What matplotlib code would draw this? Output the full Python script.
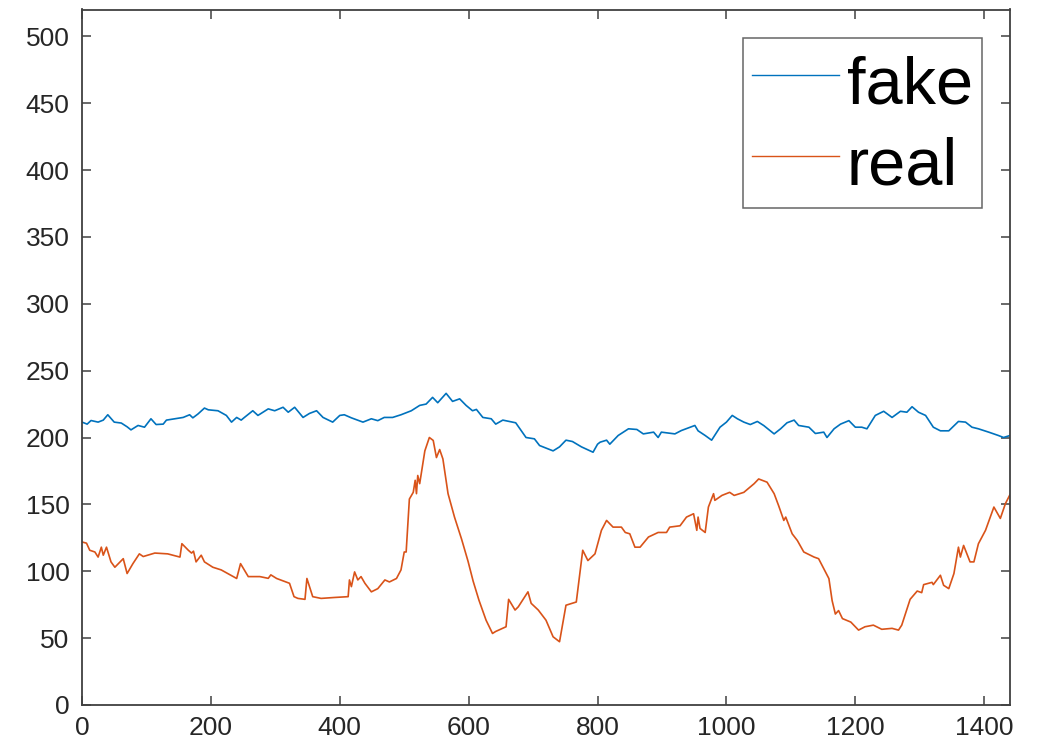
import numpy as np
import matplotlib
matplotlib.use("Agg")
import matplotlib.pyplot as plt

plt.rcParams['font.family'] = ['Liberation Sans', 'DejaVu Sans']

# fake series (minute of day, value)
fake_x = [0, 8, 14, 25, 33, 40, 50, 61, 70, 76, 87, 97, 107, 115, 126, 131, 144, 157,
          167, 172, 180, 190, 196, 211, 224, 232, 240, 247, 252, 265, 273, 289, 299,
          312, 320, 330, 343, 353, 364, 374, 389, 400, 407, 418, 436, 449, 459, 469,
          482, 495, 511, 524, 534, 544, 552, 565, 575, 586, 596, 606, 612, 622, 635,
          642, 653, 673, 689, 702, 710, 731, 741, 751, 761, 775, 793, 800, 804, 814,
          819, 832, 848, 861, 871, 887, 894, 899, 920, 930, 951, 956, 967, 977, 990,
          1000, 1009, 1017, 1027, 1037, 1048, 1058, 1074, 1084, 1094, 1105, 1112,
          1128, 1138, 1151, 1156, 1167, 1177, 1190, 1200, 1210, 1218, 1231, 1244,
          1257, 1270, 1280, 1288, 1298, 1309, 1321, 1332, 1345, 1360, 1371, 1381,
          1391, 1407, 1422, 1430, 1440]
fake_y = [211.5, 210, 212.7, 211.5, 213, 217, 211.5, 210.8, 208, 205.7, 209, 207.7,
          214, 209.7, 210, 213, 214, 215, 217, 214.7, 217.6, 222, 220.7, 220, 216.5,
          211.5, 215, 213, 215, 220, 216.5, 221.4, 220, 222.6, 218.9, 222.6, 215, 218,
          220, 215, 211.5, 216.5, 217, 214.7, 211.5, 214, 212.6, 215, 215, 217, 220,
          224, 225, 230, 226, 233, 227, 228.9, 224, 220, 221, 215, 214, 210, 213, 211,
          200, 199, 194, 190, 193, 198, 197, 193, 189, 195, 196.5, 198, 195, 201.5,
          206.5, 206, 202.7, 204, 200, 204, 202.7, 205.2, 209, 205, 201.5, 198, 207.7,
          211.5, 216.5, 214, 211.5, 209.7, 212, 208.9, 202.7, 206.5, 211, 213, 209,
          207.7, 203, 204, 200, 206.5, 210, 212.6, 207.7, 207.7, 206.5, 216.5, 219.6,
          215, 219.6, 218.9, 223, 218.9, 216.5, 207.7, 205, 205, 212, 211.5, 207.7,
          206.5, 204, 201.5, 200, 201.5]

# real series
real_x = [0, 7, 12, 20, 25, 30, 33, 38, 45, 51, 61, 64, 70, 79, 89, 95, 113, 133, 152,
          155, 165, 170, 173, 177, 185, 190, 203, 216, 235, 240, 246, 258, 276, 289,
          293, 302, 322, 329, 335, 346, 349, 358, 371, 392, 413, 415, 418, 423, 428,
          433, 439, 449, 459, 470, 477, 488, 495, 500, 503, 508, 514, 517, 519, 521,
          524, 532, 539, 545, 550, 555, 560, 568, 578, 589, 599, 607, 616, 627, 637,
          642, 658, 662, 672, 677, 692, 697, 708, 720, 731, 741, 751, 767, 777, 785,
          796, 806, 814, 819, 824, 837, 843, 850, 858, 866, 879, 894, 907, 912, 928,
          938, 949, 954, 956, 959, 967, 972, 980, 982, 993, 1005, 1012, 1027, 1043,
          1050, 1063, 1074, 1081, 1089, 1092, 1102, 1110, 1120, 1136, 1143, 1151,
          1159, 1164, 1169, 1174, 1180, 1193, 1205, 1215, 1228, 1241, 1257, 1267,
          1272, 1285, 1296, 1303, 1306, 1319, 1321, 1332, 1337, 1345, 1353, 1360,
          1363, 1368, 1378, 1384, 1391, 1402, 1415, 1425, 1433, 1440]
real_y = [121.9, 121, 115.7, 114.4, 110.6, 118, 112, 118, 107, 103, 108, 109.4, 98.3,
          105.7, 113, 111, 113.6, 113, 110.6, 120.6, 115.7, 113.6, 115, 107, 112, 107,
          103, 101, 96, 94.6, 105.7, 96, 96, 94.7, 97.3, 94.6, 91, 81, 79.7, 79, 94.6,
          81, 79.7, 80.4, 81, 93.5, 88.5, 99.5, 93.5, 96, 91, 84.6, 87, 93.5, 92, 94.6,
          101, 114.4, 114.4, 154, 159, 168, 158, 171.6, 165.5, 190, 200, 197.8, 185,
          191, 184, 158, 140.5, 124, 107.5, 92.5, 78.3, 63.4, 53.5, 55, 58.5, 79, 71,
          73.4, 84.6, 76, 71, 63.4, 51, 47.3, 74.6, 77, 115.7, 108, 113, 130.6, 138,
          135.5, 133, 133, 129, 128, 118, 118, 125.6, 129, 129, 133, 134, 140.5, 143,
          130.6, 140.5, 132, 129, 148, 158, 153, 156.7, 159, 156.7, 159, 165.5, 169,
          166.6, 158, 149, 138, 140.5, 128, 123, 114.4, 110.6, 109.4, 102, 94.5, 78,
          68, 70.6, 64.6, 62, 56, 58.5, 59.7, 56.6, 57.3, 56, 59.7, 79, 85.2, 84, 90,
          91.7, 90, 97, 89.5, 87, 98.3, 118, 110.6, 119.3, 107, 107, 120.6, 130.6, 148,
          139.5, 150.7, 157.3]

x_ticks = [0, 200, 400, 600, 800, 1000, 1200, 1400]
y_ticks = [0, 50, 100, 150, 200, 250, 300, 350, 400, 450, 500]

axis_col = '#404040'

fig = plt.figure(figsize=(10.4, 7.49), dpi=100)
ax = fig.add_axes([82 / 1040, 44 / 749, 928 / 1040, 695.5 / 749])

ax.plot(fake_x, fake_y, color='#0072BD', lw=1.2, label='fake')
ax.plot(real_x, real_y, color='#D95319', lw=1.2, label='real')

ax.set_xlim(0, 1440)
ax.set_ylim(0, 520)
ax.set_xticks(x_ticks)
ax.set_yticks(y_ticks)

for sp in ax.spines.values():
    sp.set_color(axis_col)
    sp.set_linewidth(1.3)
ax.tick_params(direction='in', length=6.5, width=1.1, color=axis_col,
               top=True, right=True, labelsize=19, labelcolor='#262626')
ax.tick_params(axis='y', pad=9)
ax.tick_params(axis='x', pad=8)

# taller rows via handleheight so the box stays narrow like the original
leg = ax.legend(loc='upper right', fontsize=48, frameon=True, fancybox=False,
                borderaxespad=0.42, handlelength=1.3, handletextpad=0.12,
                handleheight=1.2, labelspacing=0.15, borderpad=0.14)
leg.get_frame().set_edgecolor(axis_col)
leg.get_frame().set_linewidth(1.1)
for line in leg.get_lines():
    line.set_linewidth(1.0)

fig.savefig('out.png', dpi=100)
